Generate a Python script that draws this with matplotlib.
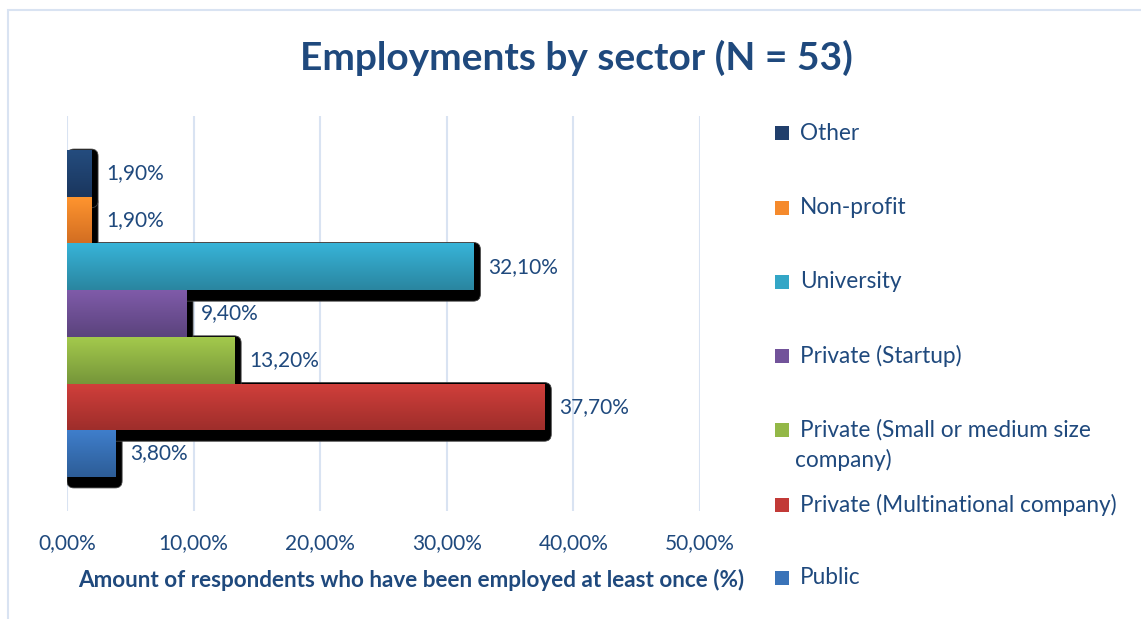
import numpy as np
import matplotlib.pyplot as plt
from matplotlib.colors import to_rgb
from matplotlib.patches import Rectangle, FancyBboxPatch

plt.rcParams['font.family'] = ['Lato', 'DejaVu Sans']

# sectors from bottom bar to top bar
sectors = ['Public', 'Private (Multinational company)',
           'Private (Small or medium size\ncompany)', 'Private (Startup)',
           'University', 'Non-profit', 'Other']
shares = [3.8, 37.7, 13.2, 9.4, 32.1, 1.9, 1.9]
x_ticks = [0, 10, 20, 30, 40, 50]
x_tick_labels = ['0,00%', '10,00%', '20,00%', '30,00%', '40,00%', '50,00%']

# gradient stops per bar: light at top, dark at bottom
top_colors = ['#3F7ECB', '#D13F3B', '#A3C94C', '#7F5BA9', '#37B4D8', '#FF952F', '#244C7E']
bottom_colors = ['#2D5D97', '#9E2E2B', '#76963A', '#5B437D', '#2A85A0', '#D36E22', '#1A365E']
legend_colors = ['#3A73B8', '#C23A37', '#93B847', '#72539A', '#33A6C6', '#F58A2C', '#213F6C']

text_blue = '#1F497D'
grid_blue = '#D9E3F2'

W, H = 1141, 619
fig = plt.figure(figsize=(W / 100, H / 100), dpi=100)
ax = fig.add_axes([67 / W, 1 - 511 / H, 633 / W, 395 / H])

y = np.arange(len(shares))
bars = ax.barh(y, shares, height=1.0, color=legend_colors, zorder=3, linewidth=0)

# drop shadows behind all bars
px_x = 633 / 50
px_y = 395 / 8.46
for yi, v in zip(y, shares):
    sh = FancyBboxPatch((0, yi - 0.5 - 11 / px_y), v + 7 / px_x, 1 + 12 / px_y,
                        boxstyle='round,pad=0,rounding_size=0.55',
                        mutation_aspect=px_x / px_y,
                        facecolor='black', edgecolor='#444444', linewidth=0.6, zorder=2)
    ax.add_patch(sh)

# vertical gradient fill clipped to each bar
for bar, c_top, c_bot in zip(bars, top_colors, bottom_colors):
    t = np.linspace(0, 1, 64)[:, None]
    grad = (1 - t) * np.array(to_rgb(c_top)) + t * np.array(to_rgb(c_bot))
    grad = grad[:, None, :].repeat(2, axis=1)
    x0, y0 = bar.get_x(), bar.get_y()
    im = ax.imshow(grad, extent=(x0, x0 + bar.get_width(), y0, y0 + bar.get_height()),
                   origin='upper', aspect='auto', interpolation='bilinear', zorder=4)
    im.set_clip_path(bar)

# value labels
for yi, v in zip(y, shares):
    ax.text(v + 15 / px_x, yi, f'{v:.2f}%'.replace('.', ','), va='center', ha='left',
            color=text_blue, fontsize=15, zorder=5)

ax.set_xlim(0, 50)
ax.set_ylim(-1.23, 7.23)
ax.set_xticks(x_ticks)
ax.set_xticklabels(x_tick_labels, color=text_blue, fontsize=15)
ax.set_yticks([])
ax.tick_params(axis='x', length=0, pad=16)
ax.grid(axis='x', color=grid_blue, linewidth=1.5)
ax.set_axisbelow(True)
for s in ax.spines.values():
    s.set_visible(False)

fig.text(411 / W, 1 - 580 / H, 'Amount of respondents who have been employed at least once (%)',
         ha='center', va='center', fontsize=16.2, fontweight='bold', color=text_blue)

fig.text(576 / W, 1 - 58 / H, 'Employments by sector (N = 53)', ha='center', va='center',
         fontsize=28, fontweight='bold', color=text_blue)

# legend, top entry first
legend_y = [133, 208, 282, 356, 430, 505, 578]
for py, name, col in zip(legend_y, sectors[::-1], legend_colors[::-1]):
    fig.patches.append(Rectangle((775 / W, 1 - (py + 7) / H), 14 / W, 14 / H,
                                 transform=fig.transFigure, facecolor=col, linewidth=0))
    for k, line in enumerate(name.split('\n')):
        lx = 800 if k == 0 else 795
        fig.text(lx / W, 1 - (py + 30 * k) / H, line, ha='left', va='center',
                 fontsize=16.3, color=text_blue)

# light chart frame
fig.patches.append(Rectangle((8 / W, -0.1), 1.2, 1.1 - 10 / H, transform=fig.transFigure,
                             fill=False, edgecolor=grid_blue, linewidth=1.5))

fig.savefig('out.png', dpi=100)
